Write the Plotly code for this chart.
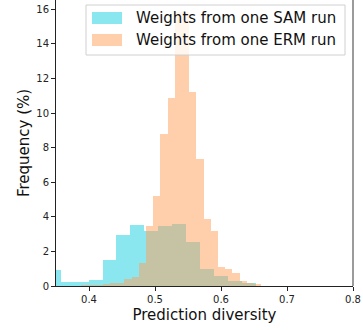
import numpy as np
import plotly.graph_objects as go

# Histogram of prediction diversity (percent per bin)
sam_bin_start = 0.3359
sam_bin_width = 0.02114
sam_freq = [0.92, 0.23, 0.23, 0.35, 1.50, 2.95, 3.50, 3.20, 3.49, 3.57,
            2.54, 0.97, 0.60, 0.31, 0.17]

erm_bin_start = 0.3881
erm_bin_width = 0.010918
erm_freq = [0.03, 0.05, 0.06, 0.10, 0.20, 0.20, 0.39, 0.54, 1.31, 3.47,
            5.20, 8.79, 10.85, 15.85, 15.85, 11.20, 7.37, 3.85, 3.17, 1.08,
            0.99, 0.76, 0.28, 0.17, 0.10]

series_names = ["Weights from one SAM run", "Weights from one ERM run"]
x_ticks = [0.4, 0.5, 0.6, 0.7, 0.8]
y_ticks = [0, 2, 4, 6, 8, 10, 12, 14, 16]

SAM_COLOR = "rgba(0,200,220,0.46)"
ERM_COLOR = "rgba(255,160,90,0.5)"
FONT = "DejaVu Sans"


def centers(start, width, n):
    return start + width * (np.arange(n) + 0.5)


fig = go.Figure()
fig.add_trace(go.Bar(
    x=centers(sam_bin_start, sam_bin_width, len(sam_freq)), y=sam_freq,
    width=sam_bin_width, marker=dict(color=SAM_COLOR, line=dict(width=0)),
    name=series_names[0], showlegend=False))
fig.add_trace(go.Bar(
    x=centers(erm_bin_start, erm_bin_width, len(erm_freq)), y=erm_freq,
    width=erm_bin_width, marker=dict(color=ERM_COLOR, line=dict(width=0)),
    name=series_names[1], showlegend=False))

# plot area geometry in pixels (used to place the legend box)
L, R, T, B, W, H = 56, 10, 0, 44, 363, 330
pw, ph = W - L - R, H - T - B


def px(xp):
    return (xp - L) / pw


def py(yp):
    return (H - B - yp) / ph


shapes = [
    # right spine
    dict(type="line", xref="paper", yref="paper", x0=1, x1=1, y0=0, y1=1,
         line=dict(color="#7a7a7a", width=1.5)),
    # legend frame
    dict(type="rect", xref="paper", yref="paper", layer="above",
         x0=px(86), x1=px(345), y0=py(55), y1=py(5),
         fillcolor="rgba(255,255,255,0.8)", line=dict(color="#d0d0d0", width=1)),
]
annotations = []
for i, (name, col) in enumerate(zip(series_names, [SAM_COLOR, ERM_COLOR])):
    top = 12 + 22 * i
    shapes.append(dict(type="rect", xref="paper", yref="paper", layer="above",
                       x0=px(92), x1=px(122), y0=py(top + 12), y1=py(top),
                       fillcolor=col, line=dict(width=0)))
    annotations.append(dict(xref="paper", yref="paper", x=px(134), y=py(top + 6),
                            xanchor="left", yanchor="middle", showarrow=False,
                            text=name, font=dict(family=FONT, size=15, color="#111")))

fig.update_layout(
    width=W, height=H, margin=dict(l=L, r=R, t=T, b=B),
    paper_bgcolor="white", plot_bgcolor="white",
    barmode="overlay", bargap=0,
    font=dict(family=FONT, color="#222"),
    shapes=shapes, annotations=annotations,
    xaxis=dict(range=[0.35, 0.8], tickvals=x_ticks,
               ticktext=[f"{v:.1f}" for v in x_ticks],
               showgrid=False, zeroline=False, showline=True,
               linecolor="#222", linewidth=1, ticks="outside", ticklen=4,
               tickcolor="#222", tickfont=dict(size=10, color="#222"),
               title=dict(text="Prediction diversity", standoff=5,
                          font=dict(size=15, color="#111"))),
    yaxis=dict(range=[0, 16.54], tickvals=y_ticks,
               showgrid=False, zeroline=False, showline=True,
               linecolor="#222", linewidth=1, ticks="outside", ticklen=4,
               tickcolor="#222", tickfont=dict(size=10, color="#222"),
               title=dict(text="Frequency (%)", standoff=3,
                          font=dict(size=15, color="#111"))),
)

fig.write_html("out.html")
